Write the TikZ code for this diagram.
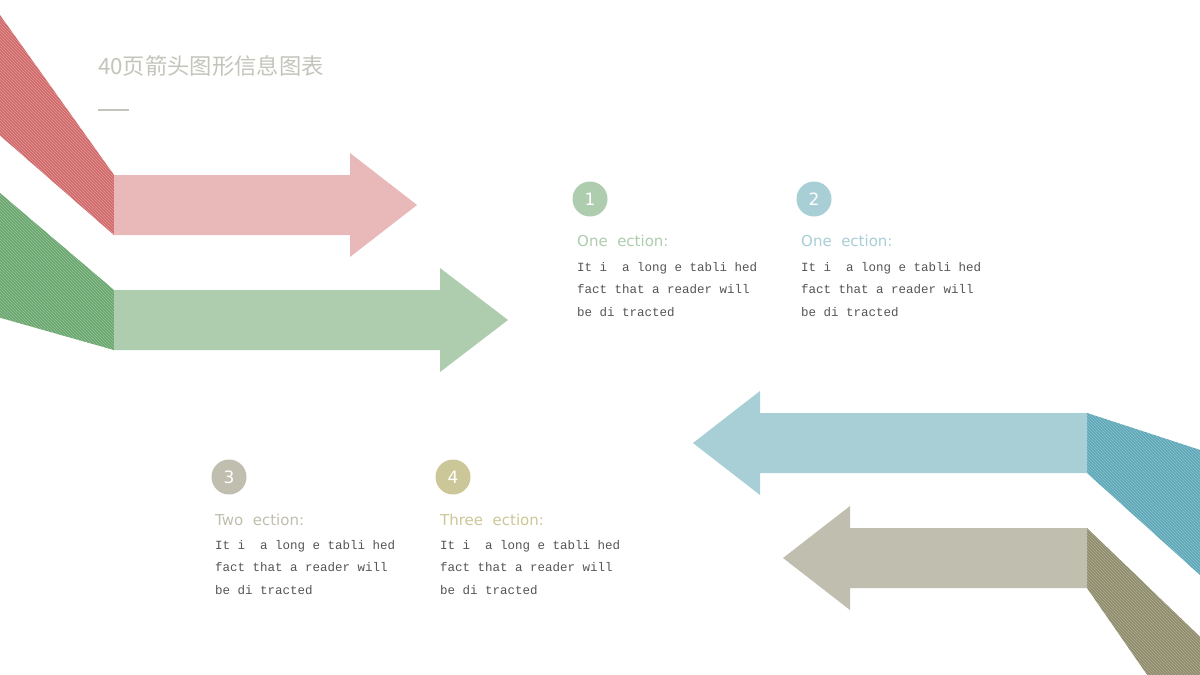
\documentclass[tikz,border=0pt]{standalone}
\usepackage{fontspec}
\setmainfont{DejaVu Sans}
\newfontfamily\cjkfont{Noto Sans CJK SC}
\newfontfamily\monofont{Liberation Mono}
\usetikzlibrary{patterns}
\definecolor{redL}{HTML}{E9B8B8}
\definecolor{redD}{HTML}{D06868}
\definecolor{redS}{HTML}{E49A9A}
\definecolor{grnL}{HTML}{AECCAE}
\definecolor{grnD}{HTML}{6AA56E}
\definecolor{grnS}{HTML}{98C49A}
\definecolor{bluL}{HTML}{A8CED6}
\definecolor{bluD}{HTML}{5EA7B8}
\definecolor{bluS}{HTML}{8CC2CE}
\definecolor{tanL}{HTML}{C0BEAE}
\definecolor{tanD}{HTML}{8E8C6C}
\definecolor{tanS}{HTML}{B0AE92}
\definecolor{oliv}{HTML}{CCC798}
\definecolor{titleC}{HTML}{C4C4BC}
\definecolor{bodyC}{HTML}{555555}
\begin{document}
\begin{tikzpicture}[x=1pt,y=-1pt,
  numc/.style={circle,minimum size=35pt,inner sep=0pt,text=white,font=\fontsize{17}{17}\selectfont},
  head/.style={anchor=west,inner sep=0pt,font=\fontsize{15}{15}\selectfont},
  body/.style={anchor=north west,inner sep=0pt,align=left,text=bodyC,font=\monofont\fontsize{12.5}{22.5}\selectfont},
  band/.style={pattern=north west lines,pattern color=#1}]
\useasboundingbox (0,0) rectangle (1200,675);
\fill[white] (0,0) rectangle (1200,675);
\begin{scope}
\clip (0,0) rectangle (1200,675);
% red band + arrow
\fill[redD] (-20,-13) -- (114,175) -- (114,235) -- (-20,118) -- cycle;
\fill[band=redS] (-20,-13) -- (114,175) -- (114,235) -- (-20,118) -- cycle;
\fill[redL] (114,175) -- (350,175) -- (350,153) -- (417,205) -- (350,257) -- (350,235) -- (114,235) -- cycle;
% green band + arrow
\fill[grnD] (-20,176) -- (114,290) -- (114,350) -- (-20,312) -- cycle;
\fill[band=grnS] (-20,176) -- (114,290) -- (114,350) -- (-20,312) -- cycle;
\fill[grnL] (114,290) -- (440,290) -- (440,268) -- (508,320) -- (440,372) -- (440,350) -- (114,350) -- cycle;
% blue band + arrow
\fill[bluD] (1087,413) -- (1220,456.5) -- (1220,593) -- (1087,473) -- cycle;
\fill[band=bluS] (1087,413) -- (1220,456.5) -- (1220,593) -- (1087,473) -- cycle;
\fill[bluL] (1087,413) -- (760,413) -- (760,391) -- (693,443) -- (760,495) -- (760,473) -- (1087,473) -- cycle;
% tan band + arrow
\fill[tanD] (1087,528) -- (1220,656) -- (1220,780) -- (1087,588) -- cycle;
\fill[band=tanS] (1087,528) -- (1220,656) -- (1220,780) -- (1087,588) -- cycle;
\fill[tanL] (1087,528) -- (850,528) -- (850,506) -- (783,558) -- (850,610) -- (850,588) -- (1087,588) -- cycle;
\end{scope}
% title
\node[anchor=west,inner sep=0pt,text=titleC,font=\cjkfont\fontsize{22.3}{22.3}\selectfont] (title) at (98,66) {40页箭头图形信息图表};
\coordinate (ulA) at (98,110);
\coordinate (ulB) at (129,110);
\draw[titleC,line width=1.5pt] (ulA) -- (ulB);
% items
\node[numc,fill=grnL] (n1) at (590,199) {1};
\node[numc,fill=bluL] (n2) at (814,199) {2};
\node[numc,fill=tanL] (n3) at (229,477) {3};
\node[numc,fill=oliv] (n4) at (453,477) {4};
\node[head,text=grnL] (h1) at (577,241) {One \ ection:};
\node[head,text=bluL] (h2) at (801,241) {One \ ection:};
\node[head,text=tanL] (h3) at (215,520) {Two \ ection:};
\node[head,text=oliv] (h4) at (440,520) {Three \ ection:};
\node[body] (b1) at (577,262) {It i\ \ a long e tabli hed\\fact that a reader will\\be di tracted};
\node[body] (b2) at (801,262) {It i\ \ a long e tabli hed\\fact that a reader will\\be di tracted};
\node[body] (b3) at (215,540) {It i\ \ a long e tabli hed\\fact that a reader will\\be di tracted};
\node[body] (b4) at (440,540) {It i\ \ a long e tabli hed\\fact that a reader will\\be di tracted};
\end{tikzpicture}
\end{document}
